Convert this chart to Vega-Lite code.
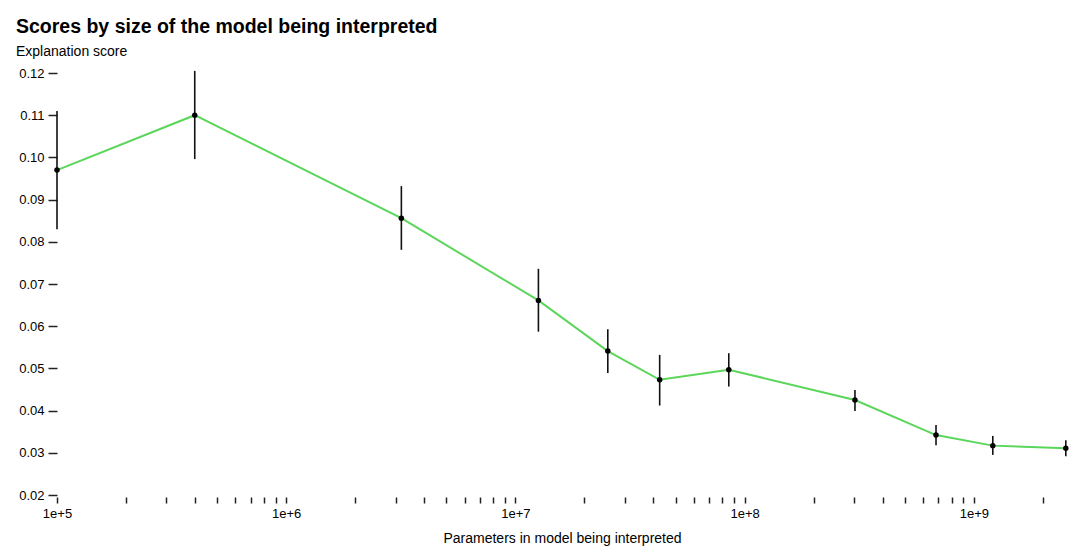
{
  "$schema": "https://vega.github.io/schema/vega-lite/v6.json",
  "width": 1010,
  "height": 422,
  "autosize": {"type": "none"},
  "padding": {"left": 57, "top": 73, "right": 13, "bottom": 58},
  "background": "white",
  "title": {
    "text": "Scores by size of the model being interpreted",
    "subtitle": "Explanation score",
    "anchor": "start",
    "frame": "group",
    "dx": -41,
    "offset": 7,
    "font": "Liberation Sans",
    "fontSize": 19.5,
    "fontWeight": "bold",
    "color": "#000000",
    "subtitleFont": "Liberation Sans",
    "subtitleFontSize": 14,
    "subtitleColor": "#000000",
    "subtitlePadding": 8
  },
  "config": {
    "view": {"stroke": null},
    "axis": {
      "labelFont": "Liberation Sans",
      "titleFont": "Liberation Sans",
      "labelFontSize": 13,
      "titleFontSize": 14,
      "labelColor": "#000000",
      "titleColor": "#000000",
      "titleFontWeight": "normal",
      "tickColor": "#222222",
      "tickWidth": 1.5,
      "grid": false,
      "domain": false
    }
  },
  "data": {
    "values": [
      {"params": 100000, "score": 0.0970, "lo": 0.0830, "hi": 0.1110},
      {"params": 399000, "score": 0.1100, "lo": 0.0996, "hi": 0.1205},
      {"params": 3180000, "score": 0.0856, "lo": 0.0781, "hi": 0.0932},
      {"params": 12600000, "score": 0.0661, "lo": 0.0587, "hi": 0.0736},
      {"params": 25300000, "score": 0.0541, "lo": 0.0489, "hi": 0.0593},
      {"params": 42600000, "score": 0.0473, "lo": 0.0412, "hi": 0.0532},
      {"params": 85300000, "score": 0.0497, "lo": 0.0457, "hi": 0.0536},
      {"params": 303000000, "score": 0.0425, "lo": 0.0399, "hi": 0.0449},
      {"params": 684000000, "score": 0.0342, "lo": 0.0318, "hi": 0.0366},
      {"params": 1210000000, "score": 0.0317, "lo": 0.0295, "hi": 0.0340},
      {"params": 2520000000, "score": 0.0311, "lo": 0.0292, "hi": 0.0330}
    ]
  },
  "encoding": {
    "x": {
      "field": "params",
      "type": "quantitative",
      "scale": {"type": "log", "domain": [100000, 2550000000], "nice": false},
      "axis": {
        "title": "Parameters in model being interpreted",
        "titlePadding": 11,
        "values": [100000, 200000, 300000, 400000, 500000, 600000, 700000, 800000, 900000,
                   1000000, 2000000, 3000000, 4000000, 5000000, 6000000, 7000000, 8000000, 9000000,
                   10000000, 20000000, 30000000, 40000000, 50000000, 60000000, 70000000, 80000000, 90000000,
                   100000000, 200000000, 300000000, 400000000, 500000000, 600000000, 700000000, 800000000, 900000000,
                   1000000000, 2000000000],
        "labelExpr": "abs(log(datum.value)/LN10 - round(log(datum.value)/LN10)) < 0.0001 ? '1e+' + round(log(datum.value)/LN10) : ''",
        "labelFlush": false,
        "labelOverlap": false,
        "offset": 2,
        "tickSize": 6,
        "labelPadding": 4
      }
    }
  },
  "layer": [
    {
      "mark": {"type": "line", "color": "#5bd65b", "strokeWidth": 2},
      "encoding": {
        "y": {
          "field": "score",
          "type": "quantitative",
          "scale": {"domain": [0.02, 0.12], "nice": false, "zero": false},
          "axis": {
            "title": null,
            "values": [0.02, 0.03, 0.04, 0.05, 0.06, 0.07, 0.08, 0.09, 0.10, 0.11, 0.12],
            "format": ".2f",
            "tickSize": 9,
            "labelPadding": 4
          }
        }
      }
    },
    {
      "mark": {"type": "rule", "color": "#111111", "strokeWidth": 1.6},
      "encoding": {
        "y": {"field": "lo", "type": "quantitative"},
        "y2": {"field": "hi"}
      }
    },
    {
      "mark": {"type": "point", "filled": true, "color": "#000000", "size": 30, "opacity": 1},
      "encoding": {
        "y": {"field": "score", "type": "quantitative"}
      }
    }
  ]
}
